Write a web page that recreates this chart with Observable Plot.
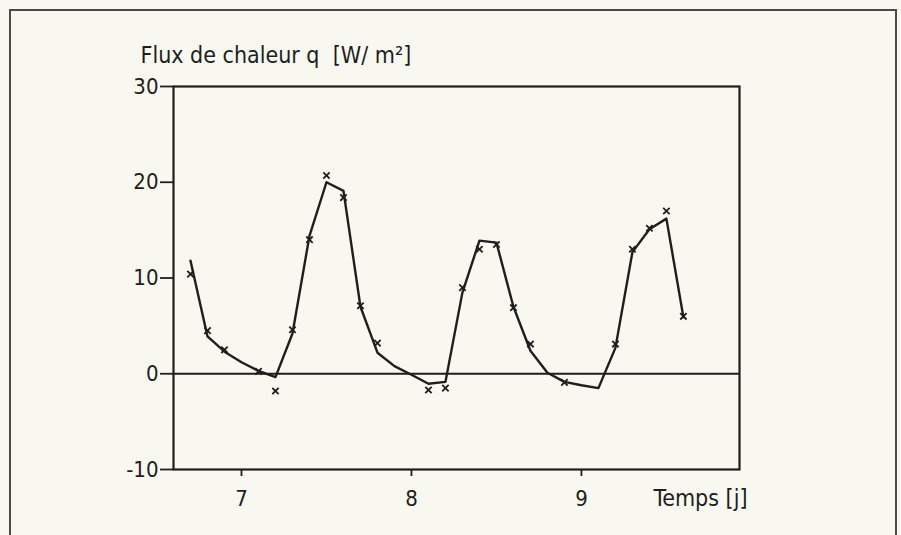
<!DOCTYPE html>
<html>
<head>
<meta charset="utf-8">
<script src="https://cdn.jsdelivr.net/npm/d3@7"></script>
<script src="https://cdn.jsdelivr.net/npm/@observablehq/plot@0.6"></script>
<style>
  html, body { margin: 0; padding: 0; background: #f8f8f0; width: 901px; height: 535px; overflow: hidden; }
  #wrap { position: relative; width: 901px; height: 535px; }
  #border { position: absolute; left: 9px; top: 9px; width: 888px; height: 540px;
            border-left: 2px solid #4a4a4a; border-top: 2px solid #4a4a4a; border-right: 2px solid #4a4a4a; box-sizing: border-box; }
  #chart { position: absolute; left: 0; top: 0; }
</style>
</head>
<body>
<div id="wrap"><div id="border"></div><div id="chart"></div></div>
<script>
// Model curve (line), time in days
const lineT = [6.7, 6.8, 6.9, 7.0, 7.1, 7.2, 7.3, 7.4, 7.5, 7.6, 7.7, 7.8, 7.9, 8.0, 8.1, 8.2, 8.3, 8.4, 8.5, 8.6, 8.7, 8.8, 8.9, 9.0, 9.1, 9.2, 9.3, 9.4, 9.5, 9.6];
const lineQ = [11.8, 3.9, 2.3, 1.2, 0.3, -0.35, 4.2, 14.4, 20.0, 19.1, 7.0, 2.2, 0.8, -0.1, -1.05, -0.85, 8.5, 13.9, 13.7, 7.0, 2.4, 0.1, -0.85, -1.2, -1.5, 2.7, 12.7, 15.1, 16.2, 5.9];
// Measured points (x markers)
const markT = [6.7, 6.8, 6.9, 7.1, 7.2, 7.3, 7.4, 7.5, 7.6, 7.7, 7.8, 8.1, 8.2, 8.3, 8.4, 8.5, 8.6, 8.7, 8.9, 9.2, 9.3, 9.4, 9.5, 9.6];
const markQ = [10.4, 4.5, 2.5, 0.25, -1.8, 4.6, 14.0, 20.7, 18.4, 7.1, 3.2, -1.7, -1.5, 9.0, 13.0, 13.5, 6.9, 3.1, -0.9, 3.1, 13.0, 15.2, 17.0, 6.0];
const xTicks = [7, 8, 9];
const yTicks = [-10, 0, 10, 20, 30];
const yTitle = "Flux de chaleur q  [W/ m²]";
const xTitle = "Temps [j]";

const lineData = lineT.map((t, i) => ({t, q: lineQ[i]}));
const markData = markT.map((t, i) => ({t, q: markQ[i]}));

const ink = "#1e1e1e";
const chart = Plot.plot({
  width: 901,
  height: 535,
  marginLeft: 173,
  marginRight: 162,
  marginTop: 86,
  marginBottom: 66,
  x: {domain: [6.6, 9.93]},
  y: {domain: [-10, 30]},
  style: {background: "transparent", fontFamily: "'DejaVu Sans', sans-serif", fontStretch: "condensed", fontSize: "20px", color: ink},
  marks: [
    Plot.frame({stroke: ink, strokeWidth: 2.2}),
    Plot.ruleY([0], {stroke: ink, strokeWidth: 2}),
    Plot.line(lineData, {x: "t", y: "q", stroke: ink, strokeWidth: 2.4}),
    Plot.dot(markData, {x: "t", y: "q", symbol: "times", r: 3, stroke: ink, strokeWidth: 1.8}),
    Plot.axisX({ticks: xTicks, tickSize: 7, tickPadding: 14, tickFormat: d => String(d), label: null, stroke: ink, strokeWidth: 1.8, fontSize: 22}),
    Plot.axisY({ticks: yTicks, tickSize: 13, tickPadding: 2, tickFormat: d => String(d), label: null, stroke: ink, strokeWidth: 1.8, fontSize: 22}),
    Plot.text([yTitle], {text: d => d, frameAnchor: "top-left", dx: -33, dy: -31, textAnchor: "start", lineAnchor: "middle", fontSize: 23, fill: ink}),
    Plot.text([xTitle], {text: d => d, frameAnchor: "bottom-right", dx: -86, dy: 29, textAnchor: "start", lineAnchor: "middle", fontSize: 23, fill: ink})
  ]
});
document.getElementById("chart").appendChild(chart);
</script>
</body>
</html>
